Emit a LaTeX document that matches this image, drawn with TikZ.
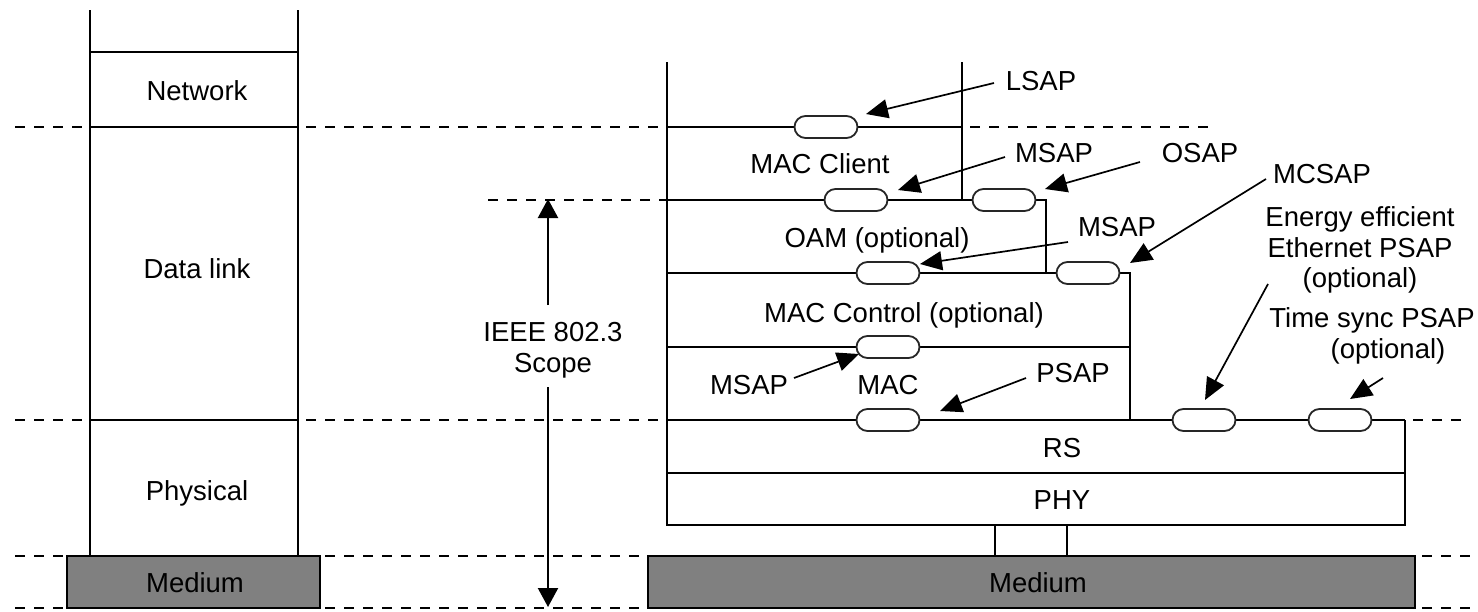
\documentclass[tikz,border=0pt]{standalone}
\usepackage{fontspec}
\setmainfont{Liberation Sans}
\usetikzlibrary{arrows.meta,shapes.misc}
\begin{document}
\begin{tikzpicture}[x=1pt,y=-1pt,
  lay/.style={line width=2.9pt},
  dsh/.style={line width=2.7pt, dash pattern=on 10pt off 9pt},
  lbl/.style={font=\fontsize{27.5}{31}\selectfont, inner sep=0pt, align=center},
  bl/.style={lbl, anchor=base},
  sap/.style={rounded rectangle, draw=black!85, fill=white, line width=1.8pt,
              minimum width=63pt, minimum height=22pt, inner sep=0pt},
  ptr/.style={line width=1.7pt, -{Triangle[length=22pt,width=19pt]}},
  sarr/.style={line width=2.2pt, -{Triangle[length=19pt,width=20pt]}},
  med/.style={draw=black, fill=gray, line width=2.9pt}
]
\useasboundingbox (0,0) rectangle (1478,611);

% ---------- dashed layer boundaries ----------
\draw[dsh] (15,127) -- (90,127);
\draw[dsh] (306,127) -- (667,127);
\draw[dsh] (970,127) -- (1215,127);
\draw[dsh] (488,200) -- (667,200);
\draw[dsh] (15,420) -- (90,420);
\draw[dsh] (306,420) -- (667,420);
\draw[dsh] (1413,420) -- (1470,420);
\draw[dsh] (15,556) -- (67,556);
\draw[dsh] (325,556) -- (648,556);
\draw[dsh] (1422,556) -- (1470,556);
\draw[dsh] (15,608) -- (67,608);
\draw[dsh] (325,608) -- (648,608);
\draw[dsh] (1422,608) -- (1470,608);

% ---------- left (OSI) stack ----------
\draw[lay] (90,10) -- (90,556);
\draw[lay] (298,10) -- (298,556);
\draw[lay] (90,52) -- (298,52);
\draw[lay] (90,127) -- (298,127);
\draw[lay] (90,420) -- (298,420);
\node[bl] (net) at (197,100) {Network};
\node[bl] (dl) at (197,278) {Data link};
\node[bl] (phys) at (197,500) {Physical};
\draw[med] (67,556) rectangle (320,608);
\node[bl] (medL) at (195,592) {Medium};

% ---------- scope arrow ----------
\node[lbl] (scope) at (553,350) {IEEE 802.3\\Scope};
\coordinate (sUp) at (548,305);
\coordinate (sTop) at (548,199);
\coordinate (sDn) at (548,387);
\coordinate (sBot) at (548,607);
\draw[sarr] (sUp) -- (sTop);
\draw[sarr] (sDn) -- (sBot);

% ---------- right (IEEE 802.3) stack ----------
\draw[lay] (667,62) -- (667,525) -- (1405,525) -- (1405,420);
\draw[lay] (962,62) -- (962,200);
\draw[lay] (667,127) -- (962,127);
\draw[lay] (667,200) -- (1046,200) -- (1046,273);
\draw[lay] (667,273) -- (1130,273) -- (1130,420);
\draw[lay] (667,347) -- (1130,347);
\draw[lay] (667,420) -- (1405,420);
\draw[lay] (667,473) -- (1405,473);
\draw[lay] (995,525) -- (995,556);
\draw[lay] (1067,525) -- (1067,556);
\draw[med] (648,556) rectangle (1415,608);
\node[bl] (medR) at (1038,592) {Medium};

\node[bl] (macc) at (820,173) {MAC Client};
\node[bl] (oam) at (877,247) {OAM (optional)};
\node[bl] (macctl) at (904,322) {MAC Control (optional)};
\node[bl] (mac) at (888,394) {MAC};
\node[bl] (rs) at (1062,457) {RS};
\node[bl] (phy) at (1062,509) {PHY};

% ---------- service access points ----------
\node[sap] (c1) at (826,127) {};
\node[sap] (c2) at (856,200) {};
\node[sap] (c3) at (1004,200) {};
\node[sap] (c4) at (888,273) {};
\node[sap] (c5) at (1088,273) {};
\node[sap] (c6) at (888,347) {};
\node[sap] (c7) at (888,420) {};
\node[sap] (c8) at (1204,420) {};
\node[sap] (c9) at (1340,420) {};

% ---------- labels and pointers ----------
\node[bl] (lsap) at (1041,90) {LSAP};
\coordinate (lsapT) at (994,83);   \coordinate (lsapH) at (866,114);
\draw[ptr] (lsapT) -- (lsapH);

\node[bl] (msap1) at (1054,162) {MSAP};
\coordinate (m1T) at (1005,157);   \coordinate (m1H) at (898,190);
\draw[ptr] (m1T) -- (m1H);

\node[bl] (osap) at (1200,162) {OSAP};
\coordinate (oT) at (1140,162);    \coordinate (oH) at (1045,189);
\draw[ptr] (oT) -- (oH);

\node[bl] (msap2) at (1117,236) {MSAP};
\coordinate (m2T) at (1068,242);   \coordinate (m2H) at (920,264);
\draw[ptr] (m2T) -- (m2H);

\node[bl] (mcsap) at (1322,183) {MCSAP};
\coordinate (mcT) at (1266,179);   \coordinate (mcH) at (1130,263);
\draw[ptr] (mcT) -- (mcH);

\node[lbl, font=\fontsize{27.5}{30.5}\selectfont] (eee) at (1360,250)
  {Energy efficient\\Ethernet PSAP\\(optional)};
\coordinate (eT) at (1268,284);    \coordinate (eH) at (1205,400);
\draw[ptr] (eT) -- (eH);

\node[lbl] (ts) at (1372,336) {Time sync PSAP\\\hspace*{32pt}(optional)};
\coordinate (tT) at (1383,378);    \coordinate (tH) at (1350,399);
\draw[ptr] (tT) -- (tH);

\node[bl] (msap3) at (749,394) {MSAP};
\coordinate (m3T) at (794,378);    \coordinate (m3H) at (859,354);
\draw[ptr] (m3T) -- (m3H);

\node[bl] (psap) at (1073,382) {PSAP};
\coordinate (pT) at (1026,378);    \coordinate (pH) at (940,411);
\draw[ptr] (pT) -- (pH);
\end{tikzpicture}
\end{document}
